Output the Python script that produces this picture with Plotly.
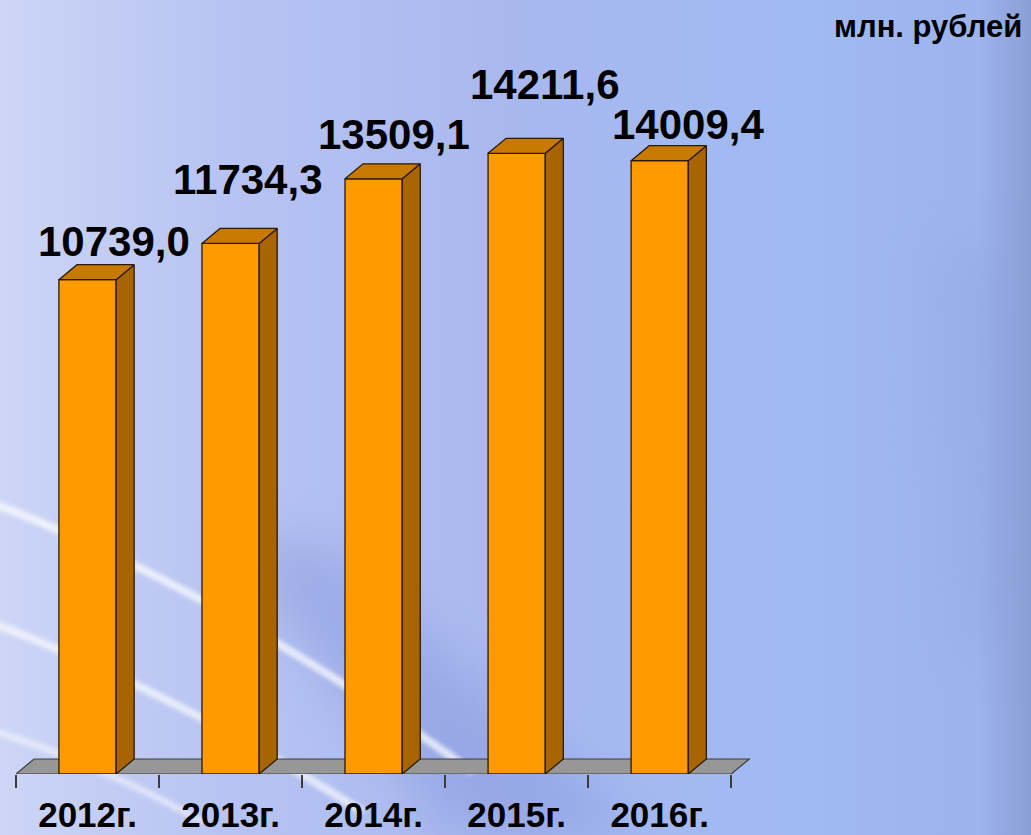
import base64
import plotly.graph_objects as go

# ---- data ----
categories = ["2012г.", "2013г.", "2014г.", "2015г.", "2016г."]
values = [10739.0, 11734.3, 13509.1, 14211.6, 14009.4]
unit_label = "млн. рублей"

# ---- layout / style constants ----
W, H = 1031, 835
ML, MR, MT, MB = 16, 264, 40, 61
Y_MIN, Y_MAX = -2850, 17326
X_MIN, X_MAX = -0.5, 4.75
BAR_W = 0.4
DEPTH_X = 0.126
DEPTH_Y = 412
FRONT = "#FF9A00"
SIDE = "#A86400"
TOP = "#C87A00"
EDGE = "#2A1A04"
FLOOR = "#979797"
FONT = "Liberation Sans, Arial, sans-serif"
label_xshift = [26, 17, 20, 28, 28]
label_yshift = [38, 64, 44, 69, 36]

xs = list(range(len(categories)))
value_texts = [f"{v:.1f}".replace(".", ",") for v in values]

# ---- background (svg) ----
svg = f'''<svg xmlns="http://www.w3.org/2000/svg" width="{W}" height="{H}" viewBox="0 0 {W} {H}">
<defs>
<linearGradient id="g" x1="0" y1="0" x2="1" y2="0">
<stop offset="0" stop-color="#cdd6f6"/>
<stop offset="0.22" stop-color="#b7c3f2"/>
<stop offset="0.5" stop-color="#a8b8ef"/>
<stop offset="0.78" stop-color="#a0baf2"/>
<stop offset="0.95" stop-color="#9cb3ec"/>
<stop offset="1" stop-color="#8c9ed6"/>
</linearGradient>
<filter id="b1" x="-50%" y="-50%" width="200%" height="200%"><feGaussianBlur stdDeviation="26"/></filter>
<filter id="b2"><feGaussianBlur stdDeviation="2"/></filter>
</defs>
<rect width="{W}" height="{H}" fill="url(#g)"/>
<polygon points="230,545 330,545 640,835 450,835" fill="#7689d4" opacity="0.36" filter="url(#b1)"/>
<polygon points="930,250 1031,250 1031,650 960,650" fill="#8a9fd8" opacity="0.25" filter="url(#b1)"/>
<g fill="none" stroke="#ffffff" stroke-linecap="round" filter="url(#b2)">
<path d="M -10,502 Q 220,590 470,770" stroke-width="8" opacity="0.7"/>
<path d="M -10,622 Q 170,690 360,810" stroke-width="8" opacity="0.65"/>
<path d="M -10,730 Q 90,760 200,820" stroke-width="7" opacity="0.5"/>
</g>
</svg>'''
bg_uri = "data:image/svg+xml;base64," + base64.b64encode(svg.encode("utf-8")).decode("ascii")

pw = W - ML - MR
ph = H - MT - MB

fig = go.Figure()

# front faces
fig.add_trace(go.Bar(
    x=xs, y=[v - Y_MIN for v in values], base=Y_MIN, width=BAR_W,
    marker=dict(color=FRONT, line=dict(color=EDGE, width=1.3)),
    hoverinfo="skip", showlegend=False,
))

# side faces
sx, sy = [], []
for x, v in zip(xs, values):
    r = x + BAR_W / 2
    sx += [r, r + DEPTH_X, r + DEPTH_X, r, r, None]
    sy += [Y_MIN, Y_MIN + DEPTH_Y, v + DEPTH_Y, v, Y_MIN, None]
fig.add_trace(go.Scatter(x=sx, y=sy, mode="lines", fill="toself", fillcolor=SIDE,
                         line=dict(color=EDGE, width=1.3), hoverinfo="skip", showlegend=False))

# top faces
tx, ty = [], []
for x, v in zip(xs, values):
    l, r = x - BAR_W / 2, x + BAR_W / 2
    tx += [l, r, r + DEPTH_X, l + DEPTH_X, l, None]
    ty += [v, v, v + DEPTH_Y, v + DEPTH_Y, v, None]
fig.add_trace(go.Scatter(x=tx, y=ty, mode="lines", fill="toself", fillcolor=TOP,
                         line=dict(color=EDGE, width=1.3), hoverinfo="skip", showlegend=False))

# floor
fx0, fx1 = xs[0] - 0.5, xs[-1] + 0.5
floor_path = (f"M {fx0},{Y_MIN} L {fx1},{Y_MIN} L {fx1 + DEPTH_X},{Y_MIN + DEPTH_Y} "
              f"L {fx0 + DEPTH_X},{Y_MIN + DEPTH_Y} Z")
fig.add_shape(type="path", path=floor_path, xref="x", yref="y", layer="below",
              fillcolor=FLOOR, line=dict(color="#3c3c3c", width=1.2))

# value labels
for x, v, t, dx, dy in zip(xs, values, value_texts, label_xshift, label_yshift):
    fig.add_annotation(x=x, y=v, text=t, showarrow=False, xref="x", yref="y",
                       xanchor="center", yanchor="middle", xshift=dx, yshift=dy,
                       font=dict(family=FONT, size=42, color="#000000", weight="bold"))

# unit label
fig.add_annotation(x=(W - 7 - ML) / pw, y=1 + (MT - 26) / ph, xref="paper", yref="paper",
                   text=unit_label, showarrow=False, xanchor="right", yanchor="middle",
                   font=dict(family=FONT, size=31, color="#000000", weight="bold"))

fig.update_layout(
    width=W, height=H,
    margin=dict(l=ML, r=MR, t=MT, b=MB, pad=0, autoexpand=False),
    paper_bgcolor="#b0bff0", plot_bgcolor="rgba(0,0,0,0)",
    showlegend=False,
    images=[dict(source=bg_uri, xref="paper", yref="paper",
                 x=-ML / pw, y=1 + MT / ph, sizex=W / pw, sizey=H / ph,
                 xanchor="left", yanchor="top", sizing="stretch", layer="below")],
    xaxis=dict(range=[X_MIN, X_MAX], tickmode="array", tickvals=xs, ticktext=categories,
               ticks="", showgrid=False, zeroline=False, showline=False, automargin=False,
               ticklabelstandoff=17,
               tickfont=dict(family=FONT, size=35, color="#000000", weight="bold"),
               minor=dict(tickmode="array", tickvals=[x - 0.5 for x in xs] + [xs[-1] + 0.5],
                          ticks="outside", ticklen=13, tickwidth=1.5, tickcolor="#3c3c3c",
                          showgrid=False)),
    yaxis=dict(range=[Y_MIN, Y_MAX], visible=False, showgrid=False, zeroline=False,
               automargin=False),
)

fig.write_html("out.html", config={"displayModeBar": False},
               post_script="document.body.style.margin='0';document.body.style.overflow='hidden';")
